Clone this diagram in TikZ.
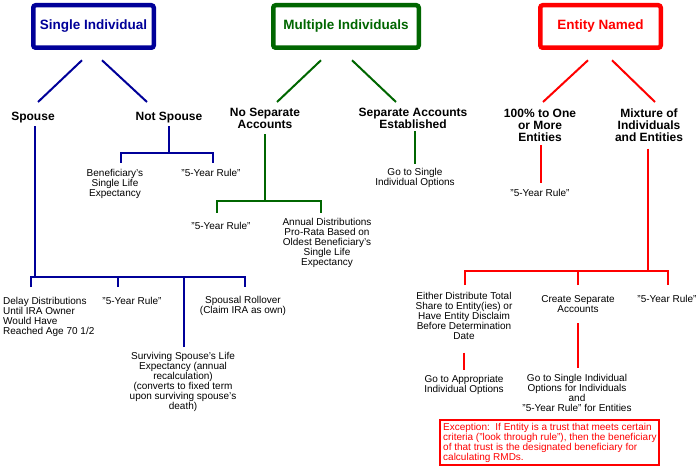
\documentclass[tikz,border=0pt]{standalone}
\usepackage{fontspec}
\setmainfont{Liberation Sans}
\usetikzlibrary{calc}
\definecolor{cblue}{RGB}{0,0,153}
\definecolor{cgreen}{RGB}{0,102,0}
\definecolor{cred}{RGB}{255,0,0}
\begin{document}
\begin{tikzpicture}[x=1pt,y=-1pt,
  titlebox/.style={draw, line width=4.5pt, rounded corners=2.5pt, minimum width=#1, minimum height=42.5pt, inner sep=0pt, font=\fontsize{13.5}{14}\selectfont\bfseries, fill=white},
  head/.style={font=\fontsize{12}{12}\selectfont\bfseries, align=center, inner sep=0pt, anchor=north},
  txt/.style={font=\fontsize{10}{10}\selectfont, align=center, inner sep=0pt, anchor=north},
  bl/.style={draw=cblue, line width=2pt},
  gr/.style={draw=cgreen, line width=2pt},
  rd/.style={draw=cred, line width=2pt}]
\fill[white] (0,0) rectangle (698,470);
\useasboundingbox (0,0) rectangle (698,470);

% titles
\node[titlebox=120.5pt, draw=cblue, text=cblue] (si) at (93.5,26.5) {Single Individual};
\node[titlebox=145.5pt, draw=cgreen, text=cgreen] (mi) at (346,26.5) {Multiple Individuals};
\node[titlebox=120.5pt, draw=cred, text=cred] (en) at (600.5,26.5) {Entity Named};

% second level
\node[head] (spouse) at (33,111.7) {Spouse};
\node[head] (notspouse) at (169,111.7) {Not Spouse};
\node[head] (nosep) at (265,107.7) {No Separate\\Accounts};
\node[head] (sepacc) at (413,107.7) {Separate Accounts\\Established};
\node[head] (hundred) at (540,108.7) {100\% to One\\or More\\Entities};
\node[head] (mixture) at (649,108.7) {Mixture of\\Individuals\\and Entities};

% leaves
\node[txt] (benef) at (115,169.4) {Beneficiary's\\Single Life\\Expectancy};
\node[txt] (fyr1) at (211,169.4) {"5-Year Rule"};
\node[txt] (fyr2) at (221,222.4) {"5-Year Rule"};
\node[txt] (annual) at (327,218.4) {Annual Distributions\\Pro-Rata Based on\\Oldest Beneficiary's\\Single Life\\Expectancy};
\node[txt] (goto1) at (415,168.4) {Go to Single\\Individual Options};
\node[txt] (fyr3) at (540,189.4) {"5-Year Rule"};
\node[txt, align=left, anchor=north west] (delay) at (3,297.4) {Delay Distributions\\Until IRA Owner\\Would Have\\Reached Age 70 1/2};
\node[txt] (fyr4) at (132,297.4) {"5-Year Rule"};
\node[txt] (rollover) at (243,296.4) {Spousal Rollover\\(Claim IRA as own)};
\node[txt] (surviving) at (183,352.4) {Surviving Spouse's Life\\Expectancy (annual\\recalculation)\\(converts to fixed term\\upon surviving spouse's\\death)};
\node[txt] (either) at (464,292.4) {Either Distribute Total\\Share to Entity(ies) or\\Have Entity Disclaim\\Before Determination\\Date};
\node[txt] (create) at (578,295.4) {Create Separate\\Accounts};
\node[txt] (fyr5) at (667,295.4) {"5-Year Rule"};
\node[txt] (goapp) at (464,375.4) {Go to Appropriate\\Individual Options};
\node[txt] (gosingle) at (577,374.4) {Go to Single Individual\\Options for Individuals\\and\\"5-Year Rule" for Entities};

% exception box
\node[draw=cred, line width=2pt, minimum width=219pt, minimum height=45pt, inner sep=0pt, anchor=north west] (exbox) at (439,419) {};
\node[font=\fontsize{10}{10}\selectfont, text=cred, align=left, inner sep=0pt, anchor=north west] (extext) at (443,423.4) {Exception:\ \ If Entity is a trust that meets certain\\criteria ("look through rule"), then the beneficiary\\of that trust is the designated beneficiary for\\calculating RMDs.};

% diagonals
\draw[bl] ($(si.south)+(-11.5,10.25)$) -- ($(spouse.north)+(5,-9.7)$);
\draw[bl] ($(si.south)+(8.5,10.25)$) -- ($(notspouse.north)+(-22,-9.7)$);
\draw[gr] ($(mi.south)+(-25,10.25)$) -- ($(nosep.north)+(12,-5.7)$);
\draw[gr] ($(mi.south)+(6,10.25)$) -- ($(sepacc.north)+(-17,-5.7)$);
\draw[rd] ($(en.south)+(-12.5,10.25)$) -- ($(hundred.north)+(3,-6.7)$);
\draw[rd] ($(en.south)+(11.5,10.25)$) -- ($(mixture.north)+(6,-6.7)$);

% spouse tree
\draw[bl] ($(spouse.south)+(2,3.2)$) -- ++(0,151);
\draw[bl] ($(delay.north west)+(28,-10.4)$) |- ($(rollover.north)+(2,-19.4)$) -- ++(0,10);
\draw[bl] ($(fyr4.north)+(-14,-10.4)$) -- ++(0,-10);
\draw[bl] ($(surviving.north)+(1,-5.4)$) -- ++(0,-70);

% not spouse tree
\draw[bl] ($(notspouse.south)+(0,3.2)$) -- ++(0,27);
\draw[bl] ($(benef.north)+(6,-6.4)$) |- ($(fyr1.north)+(2,-16.4)$) -- ++(0,10);

% no separate accounts tree
\draw[gr] ($(nosep.south)+(0,5.7)$) -- ++(0,67);
\draw[gr] ($(fyr2.north)+(-4,-9.4)$) |- ($(annual.north)+(-6,-17.4)$) -- ++(0,12);

% separate accounts
\draw[gr] ($(sepacc.south)+(2,2.7)$) -- ($(goto1.north)+(0,-4.4)$);

% entity
\draw[rd] ($(hundred.south)+(1,3.7)$) -- ($(fyr3.north)+(1,-6.4)$);
\draw[rd] ($(mixture.south)+(-1,6.7)$) -- ++(0,123);
\draw[rd] ($(either.north)+(1,-7.4)$) |- ($(fyr5.north)+(1,-24.4)$) -- ++(0,14);
\draw[rd] ($(create.north)+(0,-10.4)$) -- ++(0,-14);
\draw[rd] ($(either.south)+(0,12.4)$) -- ($(goapp.north)+(0,-5.4)$);
\draw[rd] ($(create.south)+(0,10.4)$) -- ($(gosingle.north)+(1,-6.4)$);
\end{tikzpicture}
\end{document}
